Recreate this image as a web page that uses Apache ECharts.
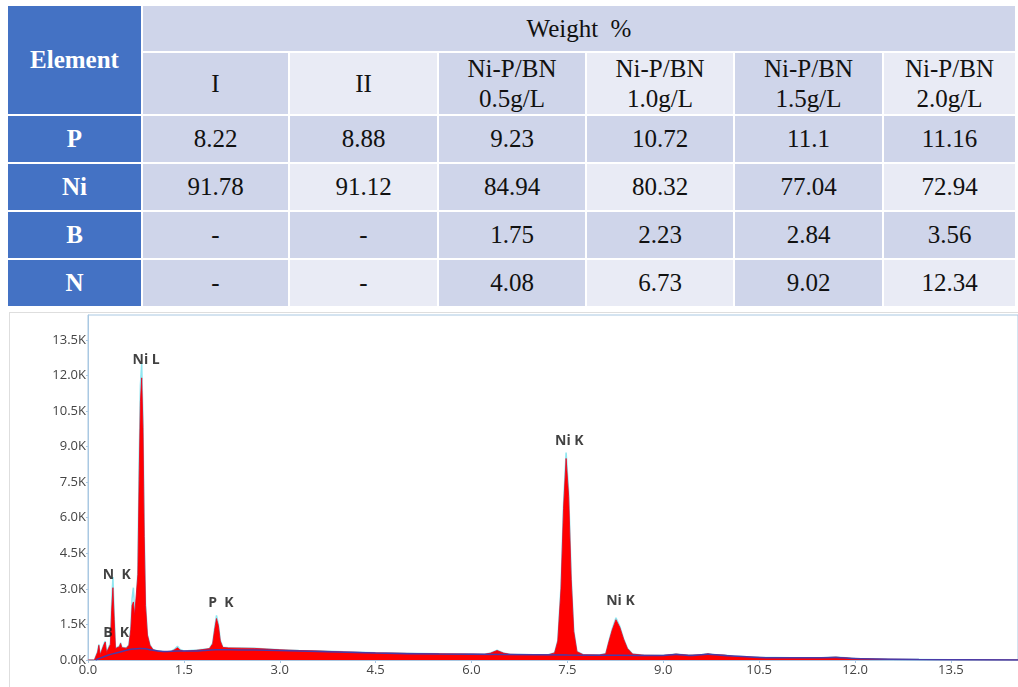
<!DOCTYPE html>
<html>
<head>
<meta charset="utf-8">
<script src="https://cdn.jsdelivr.net/npm/echarts@6/dist/echarts.min.js"></script>
<style>
  html, body { margin: 0; padding: 0; background: #ffffff; width: 1018px; height: 687px; overflow: hidden; }
  #tbl { position: absolute; left: 6px; top: 4px; border-collapse: collapse; font-family: "Liberation Serif", "Times New Roman", serif; font-size: 25px; color: #111; table-layout: fixed; }
  #tbl td { border: 2px solid #ffffff; text-align: center; vertical-align: middle; padding: 0; line-height: 30px; }
  #tbl td.el { background: #4472C4; color: #ffffff; font-weight: bold; }
  #tbl td.d { background: #CFD5EA; }
  #tbl td.l { background: #E9EBF5; }
  #panel { position: absolute; left: 9px; top: 312px; width: 1015px; height: 380px; border: 1px solid #dedede; }
  #chart { position: absolute; left: 7px; top: 312px; width: 1011px; height: 375px; }
</style>
</head>
<body>
<table id="tbl"></table>
<div id="panel"></div>
<div id="chart"></div>
<script>
// ---------- table data ----------
var headerTitle = "Weight  %";
var firstColumnTitle = "Element";
var sampleNames = ["I", "II", "Ni-P/BN<br>0.5g/L", "Ni-P/BN<br>1.0g/L", "Ni-P/BN<br>1.5g/L", "Ni-P/BN<br>2.0g/L"];
var elements = ["P", "Ni", "B", "N"];
var valuesP  = ["8.22", "8.88", "9.23", "10.72", "11.1", "11.16"];
var valuesNi = ["91.78", "91.12", "84.94", "80.32", "77.04", "72.94"];
var valuesB  = ["-", "-", "1.75", "2.23", "2.84", "3.56"];
var valuesN  = ["-", "-", "4.08", "6.73", "9.02", "12.34"];

// ---------- spectrum data (energy keV, counts) ----------
var fitted = [
  [0.00,0],[0.10,0],[0.13,60],[0.15,330],[0.17,620],[0.19,220],[0.22,260],[0.25,650],[0.27,760],[0.29,320],
  [0.32,290],[0.35,650],[0.37,2100],[0.39,3050],[0.41,1700],[0.43,480],[0.46,420],[0.49,560],[0.51,700],[0.53,520],
  [0.56,470],[0.60,500],[0.64,620],[0.67,1300],[0.69,2300],[0.71,2450],[0.73,1900],[0.75,1950],[0.78,3600],[0.80,7600],
  [0.82,10900],[0.84,11900],[0.86,9800],[0.88,5200],[0.90,2300],[0.93,1050],[0.97,620],[1.02,430],[1.10,370],[1.20,340],
  [1.30,350],[1.36,440],[1.40,520],[1.44,420],[1.50,370],[1.60,390],[1.70,410],[1.80,440],[1.90,480],[1.95,680],
  [1.98,1250],[2.01,1750],[2.04,1450],[2.07,800],[2.11,530],[2.20,510],[2.40,500],[2.60,490],[2.80,460],[3.00,430],
  [3.30,400],[3.60,380],[4.00,340],[4.50,300],[5.00,280],[5.50,260],[6.00,250],[6.20,240],[6.30,290],[6.40,400],
  [6.50,290],[6.60,240],[6.90,220],[7.20,220],[7.30,300],[7.35,800],[7.40,3000],[7.44,6400],[7.48,8500],[7.52,6900],
  [7.56,3400],[7.60,1200],[7.65,350],[7.75,220],[8.00,210],[8.10,260],[8.15,780],[8.20,1250],[8.26,1700],[8.32,1380],
  [8.38,880],[8.44,480],[8.52,250],[8.70,200],[9.00,190],[9.20,250],[9.40,200],[9.60,220],[9.70,260],[9.80,220],
  [9.95,210],[10.10,150],[10.50,110],[11.00,90],[11.50,95],[11.70,120],[12.00,60],[12.50,30],[13.00,20],[13.50,10],
  [14.00,5],[14.55,0]
];
var measured = [
  [0.00,0],[0.10,0],[0.13,70],[0.15,360],[0.17,660],[0.19,240],[0.22,280],[0.25,690],[0.27,800],[0.29,340],
  [0.32,300],[0.35,700],[0.37,2400],[0.39,3500],[0.41,1900],[0.43,500],[0.46,430],[0.49,580],[0.51,730],[0.53,540],
  [0.56,480],[0.60,510],[0.64,640],[0.67,1400],[0.69,2600],[0.71,3050],[0.73,2100],[0.75,2000],[0.78,3800],[0.80,8200],
  [0.82,11600],[0.84,12500],[0.86,10200],[0.88,5400],[0.90,2400],[0.93,1080],[0.97,640],[1.02,440],[1.10,380],[1.20,350],
  [1.30,360],[1.36,470],[1.40,580],[1.44,440],[1.50,380],[1.60,400],[1.70,420],[1.80,450],[1.90,490],[1.95,710],
  [1.98,1320],[2.01,1880],[2.04,1520],[2.07,830],[2.11,540],[2.20,520],[2.40,510],[2.60,495],[2.80,465],[3.00,435],
  [3.30,405],[3.60,385],[4.00,345],[4.50,305],[5.00,285],[5.50,265],[6.00,255],[6.20,245],[6.30,295],[6.40,410],
  [6.50,295],[6.60,245],[6.90,225],[7.20,225],[7.30,310],[7.35,830],[7.40,3100],[7.44,6600],[7.48,8750],[7.52,7100],
  [7.56,3500],[7.60,1250],[7.65,360],[7.75,225],[8.00,215],[8.10,270],[8.15,800],[8.20,1300],[8.26,1780],[8.32,1420],
  [8.38,900],[8.44,490],[8.52,255],[8.70,205],[9.00,195],[9.20,255],[9.40,205],[9.60,225],[9.70,265],[9.80,225],
  [9.95,215],[10.10,155],[10.50,112],[11.00,92],[11.50,97],[11.70,122],[12.00,62],[12.50,32],[13.00,22],[13.50,12],
  [14.00,6],[14.55,0]
];
var background = [
  [0.12,0],[0.20,90],[0.30,190],[0.40,270],[0.50,340],[0.60,410],[0.70,460],[0.80,490],[0.90,470],[1.00,420],
  [1.20,360],[1.40,380],[1.60,380],[1.80,400],[2.00,430],[2.20,430],[2.60,420],[3.00,400],[3.60,360],[4.50,290],
  [5.50,250],[6.50,230],[7.50,210],[8.30,200],[9.00,190],[9.20,230],[9.40,190],[9.70,240],[9.90,200],[10.50,110],
  [11.00,90],[11.70,110],[12.00,60],[13.00,20],[14.55,0]
];
var peakLabelText = ["Ni L", "N  K", "B  K", "P  K", "Ni K", "Ni K"];
var peakLabelEnergy = [0.91, 0.45, 0.44, 2.08, 7.53, 8.33];
var peakLabelCount = [12650, 3600, 1150, 2400, 9230, 2480];

// ---------- build table ----------
(function () {
  var tbl = document.getElementById('tbl');
  var colW = [135, 147, 149, 148, 148, 149, 133];
  var html = '<colgroup>' + colW.map(function (w) { return '<col style="width:' + w + 'px">'; }).join('') + '</colgroup>';
  html += '<tr style="height:47px"><td class="el" rowspan="2">' + firstColumnTitle + '</td><td class="d" colspan="6">' + headerTitle.replace(/ /g, '&nbsp;') + '</td></tr>';
  html += '<tr style="height:63px">' + sampleNames.map(function (s, i) { return '<td class="' + (i % 2 === 0 ? 'd' : 'l') + '">' + s + '</td>'; }).join('') + '</tr>';
  var rows = [valuesP, valuesNi, valuesB, valuesN];
  rows.forEach(function (vals, r) {
    html += '<tr style="height:48px"><td class="el">' + elements[r] + '</td>' + vals.map(function (v, i) {
      var cls = (i % 2 === 0) ? 'd' : (r % 2 === 0 ? 'd' : 'l');
      return '<td class="' + cls + '">' + v + '</td>';
    }).join('') + '</tr>';
  });
  tbl.innerHTML = html;
})();

// ---------- chart ----------
var chart = echarts.init(document.getElementById('chart'), null, { renderer: 'canvas' });
var axisBlue = '#a9c8e2';
var labelData = peakLabelText.map(function (t, i) { return { name: t, value: [peakLabelEnergy[i], peakLabelCount[i]] }; });
chart.setOption({
  animation: false,
  grid: { left: 81, right: 0, top: 3, bottom: 27, show: true, borderColor: axisBlue, borderWidth: 1 },
  xAxis: {
    type: 'value', min: 0, max: 14.55, interval: 1.5,
    axisLine: { show: true, onZero: false, lineStyle: { color: axisBlue, width: 1 } },
    axisTick: { show: true, length: 3, lineStyle: { color: axisBlue } },
    splitLine: { show: false },
    axisLabel: { showMaxLabel: false, color: '#444', fontFamily: 'Open Sans', fontSize: 13, margin: 4,
      formatter: function (v) { return v.toFixed(1); } }
  },
  yAxis: {
    type: 'value', min: 0, max: 14550, interval: 1500,
    axisLine: { show: true, lineStyle: { color: axisBlue, width: 1 } },
    axisTick: { show: true, length: 2, lineStyle: { color: axisBlue } },
    splitLine: { show: false },
    axisLabel: { showMaxLabel: false, color: '#444', fontFamily: 'Open Sans', fontSize: 13, margin: 2,
      formatter: function (v) { return (v / 1000).toFixed(1) + 'K'; } }
  },
  series: [
    { type: 'line', data: measured, symbol: 'none', z: 2,
      lineStyle: { color: '#8fe6f0', width: 1.5 } },
    { type: 'line', data: fitted, symbol: 'none', z: 3,
      lineStyle: { color: '#e8001c', width: 0.8 },
      areaStyle: { color: '#ff0000', opacity: 1 } },
    { type: 'line', data: background, symbol: 'none', z: 4, smooth: 0.3,
      lineStyle: { color: '#4a3aa8', width: 1.5 } },
    { type: 'scatter', data: labelData, symbolSize: 0, z: 5, silent: true,
      label: { show: true, position: 'inside', formatter: '{b}', color: '#111',
        fontFamily: 'Open Sans', fontWeight: 'bold', fontSize: 14 } }
  ]
});
</script>
</body>
</html>
